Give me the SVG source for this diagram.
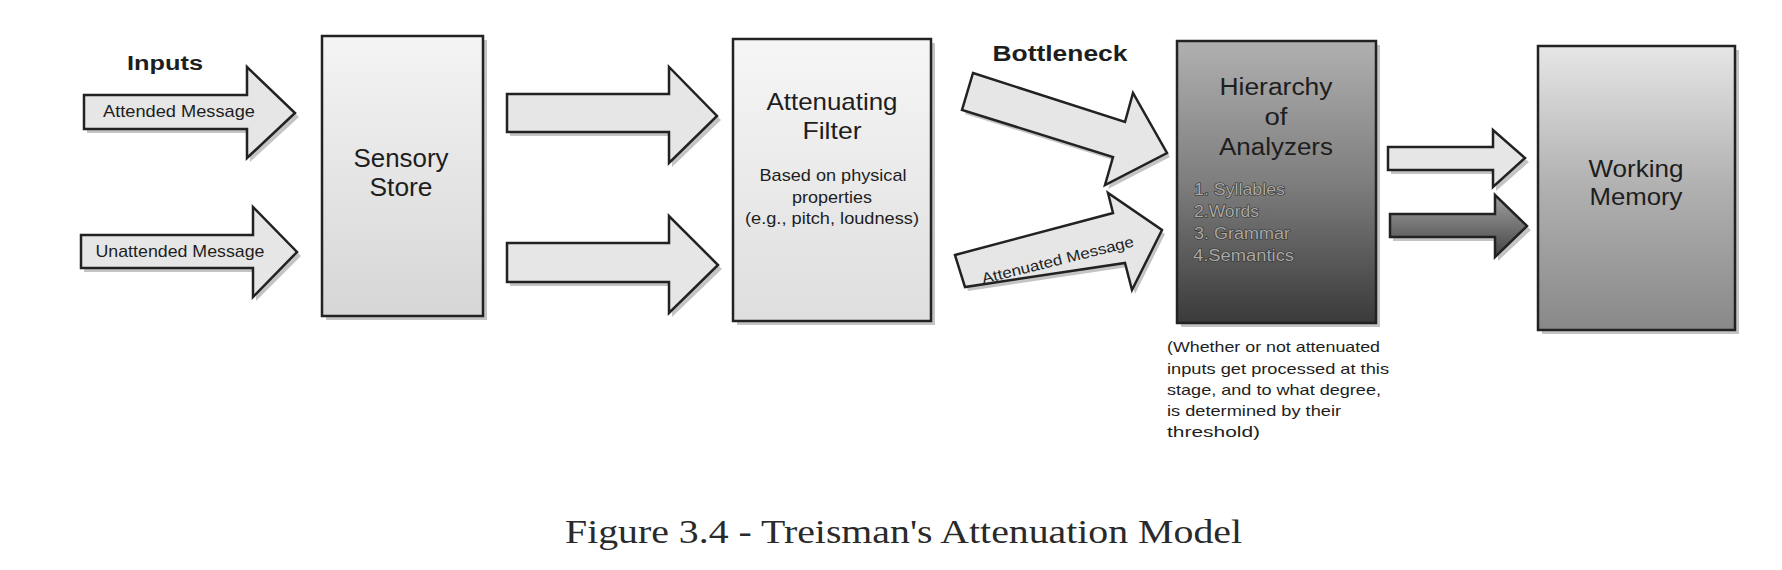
<svg xmlns="http://www.w3.org/2000/svg" width="1782" height="570" viewBox="0 0 1782 570">
<defs>
<linearGradient id="gSensory" x1="0" y1="0" x2="0" y2="1"><stop offset="0" stop-color="#f4f4f4"/><stop offset="1" stop-color="#d6d6d6"/></linearGradient>
<linearGradient id="gFilter" x1="0" y1="0" x2="0" y2="1"><stop offset="0" stop-color="#f6f6f6"/><stop offset="1" stop-color="#dedede"/></linearGradient>
<linearGradient id="gHier" x1="0" y1="0" x2="0" y2="1"><stop offset="0" stop-color="#b0b0b0"/><stop offset="0.5" stop-color="#7e7e7e"/><stop offset="1" stop-color="#3a3a3a"/></linearGradient>
<linearGradient id="gWM" x1="0" y1="0" x2="0" y2="1"><stop offset="0" stop-color="#e6e6e6"/><stop offset="0.5" stop-color="#b0b0b0"/><stop offset="1" stop-color="#888888"/></linearGradient>
<linearGradient id="gDark" x1="0" y1="0" x2="0" y2="1"><stop offset="0" stop-color="#a0a0a0"/><stop offset="1" stop-color="#444444"/></linearGradient>
</defs>
<style>
.box{stroke:#222;stroke-width:2.5}
.shadow{fill:#c4c4c4}
.arrow{fill:#e6e6e6;stroke:#222;stroke-width:2.5;stroke-linejoin:miter}
.sans{font-family:"Liberation Sans",Arial,sans-serif;fill:#1e1e1e}
.bold{font-weight:bold}
.title{font-size:24px}
.sub{font-size:17px}
.list{font-size:16px;fill:#a8a8a8;stroke:#333333;stroke-width:1.2;paint-order:stroke}
.note{font-size:15px}
.serif{font-family:"Liberation Serif","Times New Roman",serif;fill:#2a2a2a}
</style>
<rect width="1782" height="570" fill="#ffffff"/>

<g id="labels">
<text class="sans bold" x="165" y="70" font-size="20" text-anchor="middle" textLength="76" lengthAdjust="spacingAndGlyphs">Inputs</text>
<text class="sans bold" x="1060" y="61" font-size="22" text-anchor="middle" textLength="135" lengthAdjust="spacingAndGlyphs">Bottleneck</text>
</g>

<g id="connectors">
<g id="arrow-attended">
<polygon class="shadow" points="87,99 250,99 250,71 299,117 250,162 250,133 87,133"/>
<polygon class="arrow" points="84,95 247,95 247,67 295,113 247,158 247,129 84,129"/>
<text class="sans" x="179" y="117" font-size="17" text-anchor="middle" textLength="152" lengthAdjust="spacingAndGlyphs">Attended Message</text>
</g>
<g id="arrow-unattended">
<polygon class="shadow" points="84,239 256,239 256,211 301,256 256,301 256,272 84,272"/>
<polygon class="arrow" points="81,235 253,235 253,207 297,252 253,297 253,268 81,268"/>
<text class="sans" x="180" y="257" font-size="17" text-anchor="middle" textLength="169" lengthAdjust="spacingAndGlyphs">Unattended Message</text>
</g>
<g id="arrow-ss-filter-1">
<polygon class="shadow" points="510,98 672,98 672,71 721,120 672,167 672,136 510,136"/>
<polygon class="arrow" points="507,94 669,94 669,67 717,116 669,163 669,132 507,132"/>
</g>
<g id="arrow-ss-filter-2">
<polygon class="shadow" points="510,247 672,247 672,220 722,269 672,317 672,286 510,286"/>
<polygon class="arrow" points="507,243 669,243 669,216 718,265 669,313 669,282 507,282"/>
</g>
<g id="arrow-bottleneck">
<polygon class="shadow" points="976,77 1128,126 1136,97 1170,157 1108,189 1116,161 965,114"/>
<polygon class="arrow" points="973,73 1125,122 1133,93 1167,153 1105,185 1113,157 962,110"/>
</g>
<g id="arrow-attenuated">
<polygon class="shadow" points="958,259 1116,217 1111,197 1165,234 1135,294 1128,267 968,291"/>
<polygon class="arrow" points="955,255 1113,213 1108,193 1162,230 1132,290 1125,263 965,287"/>
<text class="sans" x="1059" y="265" font-size="15" text-anchor="middle" textLength="156" lengthAdjust="spacingAndGlyphs" transform="rotate(-14 1059 265)">Attenuated Message</text>
</g>
<g id="arrow-hier-wm-1">
<polygon class="shadow" points="1391,151 1496,151 1496,134 1529,162 1496,191 1496,174 1391,174"/>
<polygon class="arrow" points="1388,147 1493,147 1493,130 1525,158 1493,187 1493,170 1388,170"/>
</g>
<g id="arrow-hier-wm-2">
<polygon class="shadow" points="1393,218 1498,218 1498,199 1531,230 1498,261 1498,241 1393,241"/>
<polygon class="arrow" style="fill:url(#gDark)" points="1390,214 1495,214 1495,195 1527,226 1495,257 1495,237 1390,237"/>
</g>
</g>

<g id="sensory-store">
<rect class="shadow" x="326" y="40" width="161" height="280"/>
<rect class="box" x="322" y="36" width="161" height="280" fill="url(#gSensory)"/>
<text class="sans" x="401" y="167" font-size="25" text-anchor="middle" textLength="95" lengthAdjust="spacingAndGlyphs">Sensory</text>
<text class="sans" x="401" y="196" font-size="25" text-anchor="middle" textLength="63" lengthAdjust="spacingAndGlyphs">Store</text>
</g>

<g id="attenuating-filter">
<rect class="shadow" x="737" y="43" width="198" height="282"/>
<rect class="box" x="733" y="39" width="198" height="282" fill="url(#gFilter)"/>
<text class="sans title" x="832" y="110" text-anchor="middle" textLength="131" lengthAdjust="spacingAndGlyphs">Attenuating</text>
<text class="sans title" x="832" y="139" text-anchor="middle" textLength="59" lengthAdjust="spacingAndGlyphs">Filter</text>
<text class="sans sub" x="833" y="181" text-anchor="middle" textLength="147" lengthAdjust="spacingAndGlyphs">Based on physical</text>
<text class="sans sub" x="832" y="203" text-anchor="middle" textLength="80" lengthAdjust="spacingAndGlyphs">properties</text>
<text class="sans sub" x="832" y="224" text-anchor="middle" textLength="174" lengthAdjust="spacingAndGlyphs">(e.g., pitch, loudness)</text>
</g>

<g id="hierarchy-of-analyzers">
<rect class="shadow" x="1181" y="45" width="199" height="282"/>
<rect class="box" x="1177" y="41" width="199" height="282" fill="url(#gHier)"/>
<text class="sans" x="1276" y="95" font-size="23" text-anchor="middle" textLength="113" lengthAdjust="spacingAndGlyphs">Hierarchy</text>
<text class="sans" x="1276" y="125" font-size="23" text-anchor="middle" textLength="23" lengthAdjust="spacingAndGlyphs">of</text>
<text class="sans" x="1276" y="155" font-size="23" text-anchor="middle" textLength="114" lengthAdjust="spacingAndGlyphs">Analyzers</text>
<text class="sans list" x="1194" y="195" textLength="91" lengthAdjust="spacingAndGlyphs">1. Syllables</text>
<text class="sans list" x="1194" y="217" textLength="65" lengthAdjust="spacingAndGlyphs">2.Words</text>
<text class="sans list" x="1194" y="239" textLength="96" lengthAdjust="spacingAndGlyphs">3. Grammar</text>
<text class="sans list" x="1193" y="261" textLength="101" lengthAdjust="spacingAndGlyphs">4.Semantics</text>
</g>

<g id="working-memory">
<rect class="shadow" x="1542" y="50" width="197" height="284"/>
<rect class="box" x="1538" y="46" width="197" height="284" fill="url(#gWM)"/>
<text class="sans title" x="1636" y="177" text-anchor="middle" textLength="95" lengthAdjust="spacingAndGlyphs">Working</text>
<text class="sans title" x="1636" y="205" text-anchor="middle" textLength="93" lengthAdjust="spacingAndGlyphs">Memory</text>
</g>

<g id="threshold-note">
<text class="sans note" x="1167" y="352" textLength="213" lengthAdjust="spacingAndGlyphs">(Whether or not attenuated</text>
<text class="sans note" x="1167" y="374" textLength="222" lengthAdjust="spacingAndGlyphs">inputs get processed at this</text>
<text class="sans note" x="1167" y="395" textLength="214" lengthAdjust="spacingAndGlyphs">stage, and to what degree,</text>
<text class="sans note" x="1167" y="416" textLength="174" lengthAdjust="spacingAndGlyphs">is determined by their</text>
<text class="sans note" x="1167" y="437" textLength="93" lengthAdjust="spacingAndGlyphs">threshold)</text>
</g>

<g id="caption">
<text class="serif" x="565" y="543" font-size="33" textLength="677" lengthAdjust="spacingAndGlyphs">Figure 3.4 - Treisman's Attenuation Model</text>
</g>
</svg>
